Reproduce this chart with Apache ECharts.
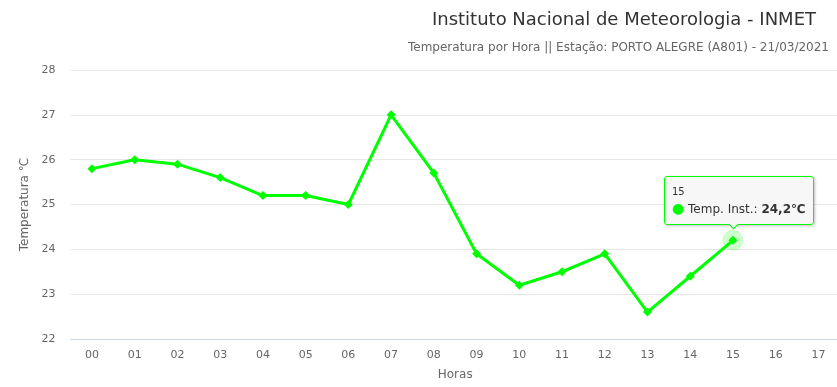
<!DOCTYPE html>
<html><head><meta charset="utf-8">
<script src="https://cdn.jsdelivr.net/npm/echarts@6/dist/echarts.min.js"></script>
<style>html,body{margin:0;padding:0;background:#fff;overflow:hidden;width:837px;height:387px}#c{width:841px;height:387px}</style>
</head><body><div id="c"></div>
<script>
const hours = ['00','01','02','03','04','05','06','07','08','09','10','11','12','13','14','15','16','17'];
const temps = [25.8, 26.0, 25.9, 25.6, 25.2, 25.2, 25.0, 27.0, 25.7, 23.9, 23.2, 23.5, 23.9, 22.6, 23.4, 24.2];
const yTicks = [22, 23, 24, 25, 26, 27, 28];
const hoverIndex = 15;
const seriesName = 'Temp. Inst.';

const FONT = 'DejaVu Sans';
const chart = echarts.init(document.getElementById('c'));
chart.setOption({
  animation: false,
  textStyle: {fontFamily: FONT},
  title: [
    {text: 'Instituto Nacional de Meteorologia - INMET', right: 20, top: 6,
     textStyle: {fontFamily: FONT, fontSize: 18, fontWeight: 'normal', color: '#333'}},
    {text: 'Temperatura por Hora || Estação: PORTO ALEGRE (A801) - 21/03/2021', right: 7, top: 37,
     textStyle: {fontFamily: FONT, fontSize: 12, fontWeight: 'normal', color: '#666'}}
  ],
  grid: {left: 70.6, width: 769.2, top: 70, bottom: 48, containLabel: false},
  tooltip: {
    trigger: 'item', alwaysShowContent: true, triggerOn: 'none',
    backgroundColor: 'rgba(247,247,247,0.95)', borderColor: '#00ff00', borderWidth: 1,
    padding: [6, 7], textStyle: {fontFamily: FONT, fontSize: 12, color: '#333'},
    extraCssText: 'border-radius:3px;box-shadow:1px 1px 3px rgba(0,0,0,0.25);overflow:visible;',
    position: function (point, params, dom, rect, size) {
      return [point[0] - 69, point[1] - 64];
    },
    formatter: function (p) {
      return '<div style="font-size:10px;line-height:14px;padding-top:2px">' + hours[p.dataIndex] + '</div>' +
        '<div style="line-height:18px"><span style="color:#00ff00;font-size:14px">●</span> ' + seriesName +
        ': <b>' + String(p.value).replace('.', ',') + '℃</b></div>' +
        '<div style="position:absolute;left:65px;bottom:-4px;width:6px;height:6px;background:#f7f7f7;' +
        'border-right:1px solid #00ff00;border-bottom:1px solid #00ff00;transform:rotate(45deg)"></div>';
    }
  },
  xAxis: {
    type: 'category', data: hours, boundaryGap: true,
    name: 'Horas', nameLocation: 'middle', nameGap: 30,
    nameTextStyle: {color: '#666', fontSize: 12, fontFamily: FONT},
    axisLine: {lineStyle: {color: '#ccd6eb'}}, axisTick: {show: false},
    axisLabel: {color: '#666', fontSize: 11, margin: 11, fontFamily: FONT}
  },
  yAxis: {
    type: 'value', min: yTicks[0], max: yTicks[yTicks.length - 1], interval: 1,
    name: 'Temperatura ℃', nameLocation: 'middle', nameGap: 29, nameRotate: 90,
    nameTextStyle: {color: '#666', fontSize: 12, fontFamily: FONT},
    axisLine: {show: false}, axisTick: {show: false},
    axisLabel: {color: '#666', fontSize: 11, margin: 15, fontFamily: FONT},
    splitLine: {lineStyle: {color: '#e6e6e6'}}
  },
  series: [
    {type: 'scatter', data: [[hours[hoverIndex], temps[hoverIndex]]], symbol: 'circle', symbolSize: 21,
     itemStyle: {color: 'rgba(0,255,0,0.25)'}, silent: true, z: 1, tooltip: {show: false}},
    {type: 'line', name: seriesName, data: temps, symbol: 'diamond', symbolSize: 9,
     lineStyle: {color: '#00ff00', width: 3}, itemStyle: {color: '#00ff00'}, z: 3}
  ]
});
chart.dispatchAction({type: 'showTip', seriesIndex: 1, dataIndex: hoverIndex});
</script></body></html>
